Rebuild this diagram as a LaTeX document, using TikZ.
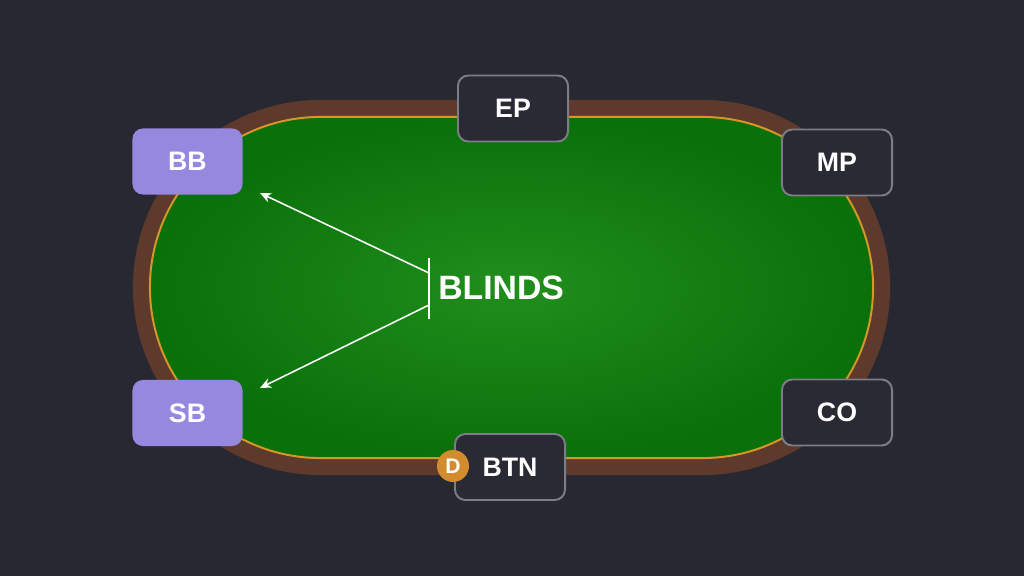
\documentclass[tikz,border=0pt]{standalone}
\usepackage{fontspec}
\setmainfont{Liberation Sans}
\usetikzlibrary{arrows.meta,shapes.misc}
\definecolor{bgc}{RGB}{40,40,50}
\definecolor{rail}{RGB}{94,58,44}
\definecolor{goldc}{RGB}{214,150,40}
\definecolor{feltin}{RGB}{32,142,28}
\definecolor{feltout}{RGB}{10,112,10}
\definecolor{purp}{RGB}{150,136,222}
\definecolor{boxfill}{RGB}{42,42,52}
\definecolor{boxline}{RGB}{125,125,135}
\definecolor{dchip}{RGB}{210,140,45}
\tikzset{
  seat/.style={rounded corners=0.26cm, minimum width=2.75cm, minimum height=1.65cm,
    font=\bfseries\fontsize{19}{19}\selectfont, text=white, inner sep=0pt},
  blind/.style={seat, fill=purp},
  other/.style={seat, fill=boxfill, draw=boxline, line width=1.4pt},
  chip/.style={circle, fill=dchip, minimum size=0.8cm, inner sep=0pt,
    font=\bfseries\fontsize{15}{15}\selectfont, text=white},
  arr/.style={white, line width=1.1pt, -{Stealth[length=8pt,width=7pt]}},
  brk/.style={white, line width=1.1pt},
  railshape/.style={rounded rectangle, fill=rail, minimum width=18.925cm, minimum height=9.375cm, inner sep=0pt},
  feltshape/.style={rounded rectangle, inner color=feltin, outer color=feltout, draw=goldc, line width=1.4pt,
    minimum width=18.075cm, minimum height=8.525cm, inner sep=0pt}
}
\begin{document}
\begin{tikzpicture}[x=0.025cm,y=-0.025cm]
\fill[bgc] (0,0) rectangle (1024,576);
\useasboundingbox (0,0) rectangle (1024,576);
% table
\node[railshape] (rail) at (511.5,287.5) {};
\node[feltshape] (felt) at (511.5,287.5) {};
% seats
\node[blind] (bb) at (187.5,161.5) {BB};
\node[blind] (sb) at (187.5,413) {SB};
\node[other] (ep) at (513,108.5) {EP};
\node[other] (mp) at (837,162.5) {MP};
\node[other] (co) at (837,412.5) {CO};
\node[other] (btn) at (510,467) {BTN};
\node[chip] (d) at (453,466) {D};
% blinds label
\node[anchor=west, text=white, font=\bfseries\fontsize{24}{24}\selectfont, inner sep=0pt] (blinds) at (438,288) {BLINDS};
\coordinate (bt) at (429,258);
\coordinate (bbm) at (429,319);
\coordinate (ja) at (429,273);
\coordinate (jb) at (429,305);
\coordinate (ta) at (260,193);
\coordinate (tb) at (260,388);
\draw[brk] (bt) -- (bbm);
\draw[arr] (ja) -- (ta);
\draw[arr] (jb) -- (tb);
\end{tikzpicture}
\end{document}
